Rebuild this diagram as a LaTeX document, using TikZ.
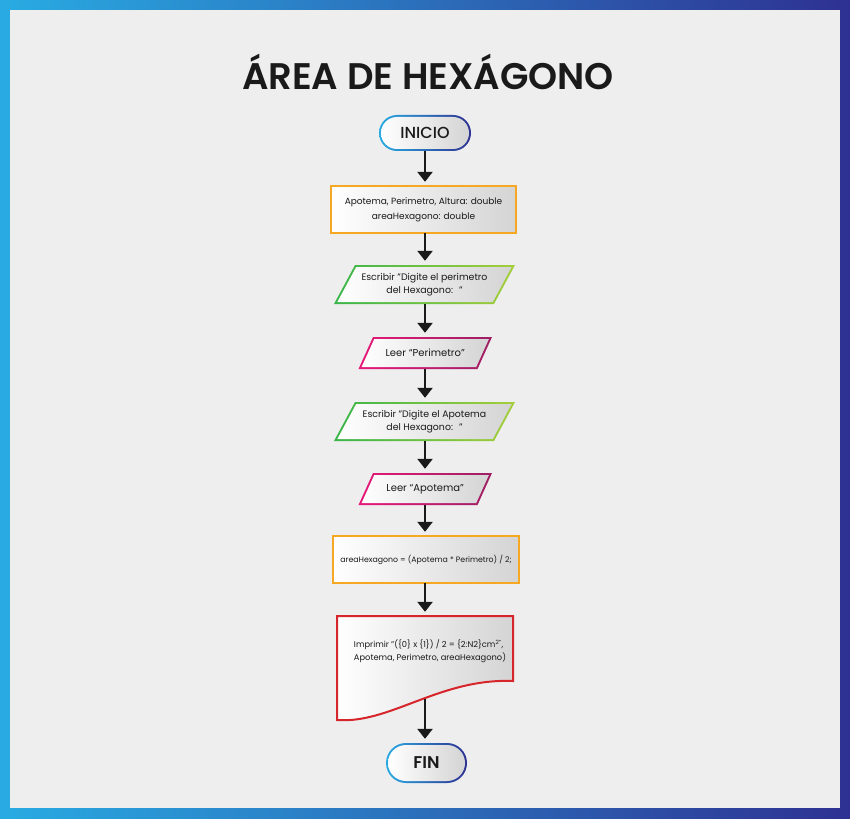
\documentclass[tikz,border=0pt]{standalone}
\usepackage{fontspec}
\setmainfont{Poppins}
\IfFontExistsTF{Poppins SemiBold}{\newfontfamily\semib{Poppins SemiBold}}{\newcommand\semib{\bfseries}}
\IfFontExistsTF{Poppins Medium}{\newfontfamily\medw{Poppins Medium}}{\newcommand\medw{}}
\usetikzlibrary{arrows.meta}
\definecolor{frameL}{HTML}{29ABE2}
\definecolor{frameR}{HTML}{2E3192}
\definecolor{paper}{HTML}{EEEEEE}
\definecolor{ink}{HTML}{1A1A1A}
\definecolor{fillR}{HTML}{D4D4D4}
\definecolor{grnL}{HTML}{39B54A}
\definecolor{grnR}{HTML}{A6CE39}
\definecolor{magL}{HTML}{E8197A}
\definecolor{magR}{HTML}{9E1F63}
\definecolor{orng}{HTML}{F7A823}
\definecolor{docred}{HTML}{D7262B}
\tikzset{
  innerfill/.style={left color=white, right color=fillR},
  blueshade/.style={left color=frameL, right color=frameR},
  grnshade/.style={left color=grnL, right color=grnR},
  magshade/.style={left color=magL, right color=magR},
  lbl/.style={inner sep=0pt, align=center, text=ink},
  arr/.style={line width=2.5pt, draw=ink, -{Triangle[width=15pt,length=10pt]}, shorten >=4pt},
  gtext/.style={font=\fontsize{9.4}{13}\selectfont},
  mtext/.style={font=\fontsize{10}{13}\selectfont},
  stext/.style={font=\fontsize{9}{15}\selectfont},
}
\newcommand\slantbox[9]{%
  \pgfmathsetmacro\sbH{#6-#5}%
  \pgfmathsetmacro\sbK{2*sqrt(\sbH*\sbH+#4*#4)/\sbH}%
  \pgfmathsetmacro\sbT{2*#4/\sbH}%
  \shade[#7] (#2,#5) -- (#2+#3,#5) -- (#2+#3-#4,#6) -- (#2-#4,#6) -- cycle;
  \shade[innerfill] (#2-\sbT+\sbK,#5+2) -- (#2+#3-\sbT-\sbK,#5+2) -- (#2+#3-#4+\sbT-\sbK,#6-2) -- (#2-#4+\sbT+\sbK,#6-2) -- cycle;
  \node[lbl,#8,minimum height=\sbH pt] (#1) at ({#2+(#3-#4)/2},{(#5+#6)/2}) {#9};
}
\begin{document}
\begin{tikzpicture}[x=1pt,y=-1pt]
\useasboundingbox (0,0) rectangle (850,818);
\shade[blueshade] (0,0) rectangle (850,818);
\fill[paper] (10,10) rectangle (840,808);
\node[lbl, anchor=base, font=\fontsize{37}{40}\semib] (title) at (428,90) {ÁREA DE HEXÁGONO};

% INICIO
\shade[blueshade, rounded corners=18pt] (379,115) rectangle (471,151);
\shade[innerfill, rounded corners=16pt] (381,117) rectangle (469,149);
\node[lbl, minimum height=36pt, font=\fontsize{16}{18}\medw] (start) at (425,133) {INICIO};

% declarations
\shade[innerfill, draw=orng, line width=2pt] (331,186) rectangle (516,233);
\node[lbl, stext, minimum height=47pt] (decl) at (423.5,209.5) {Apotema, Perimetro, Altura: double\\areaHexagono: double};

\slantbox{g1}{355}{160}{21}{265}{304}{grnshade}{gtext}{Escribir "Digite el perimetro\\del Hexagono:\hspace{6pt}"}
\slantbox{m1}{373}{119}{14.5}{337}{369}{magshade}{mtext}{Leer “Perimetro”}
\slantbox{g2}{355}{160}{21}{402}{441}{grnshade}{gtext}{Escribir "Digite el Apotema\\del Hexagono:\hspace{6pt}"}
\slantbox{m2}{373}{119}{14.5}{473}{505}{magshade}{mtext}{Leer “Apotema”}

% computation
\shade[innerfill, draw=orng, line width=2pt] (333,536) rectangle (519,583);
\node[lbl, font=\fontsize{7.8}{10}\selectfont, minimum height=47pt] (comp) at (426,559.5) {areaHexagono = (Apotema * Perimetro) / 2;};

% document
\shade[innerfill, draw=docred, line width=2pt] (337,616) -- (513,616) -- (513,681) .. controls (440,678) and (390,724) .. (337,720) coordinate[pos=0.47] (wave) -- cycle;
\node[lbl, minimum width=176pt, minimum height=104pt] (doc) at (425,668) {};
\node[lbl, align=left, font=\fontsize{8.3}{12.5}\selectfont] (doctext) at (430,651) {Imprimir "(\{0\} x \{1\}) / 2 = \{2:N2\}cm\textsuperscript{2"},\\Apotema, Perimetro, areaHexagono)};

% FIN
\shade[blueshade, rounded corners=20pt] (386,743) rectangle (467,783);
\shade[innerfill, rounded corners=18pt] (388,745) rectangle (465,781);
\node[lbl, minimum height=40pt, font=\fontsize{17}{19}\semib] (fin) at (426.5,763) {FIN};

% arrows
\draw[arr] (start.south) -- (start.south |- decl.north);
\draw[arr] (start.south |- decl.south) -- (start.south |- g1.north);
\draw[arr] (start.south |- g1.south) -- (start.south |- m1.north);
\draw[arr] (start.south |- m1.south) -- (start.south |- g2.north);
\draw[arr] (start.south |- g2.south) -- (start.south |- m2.north);
\draw[arr] (start.south |- m2.south) -- (start.south |- comp.north);
\draw[arr] (start.south |- comp.south) -- (start.south |- doc.north);
\draw[arr] (start.south |- wave) -- (start.south |- fin.north);
\end{tikzpicture}
\end{document}
